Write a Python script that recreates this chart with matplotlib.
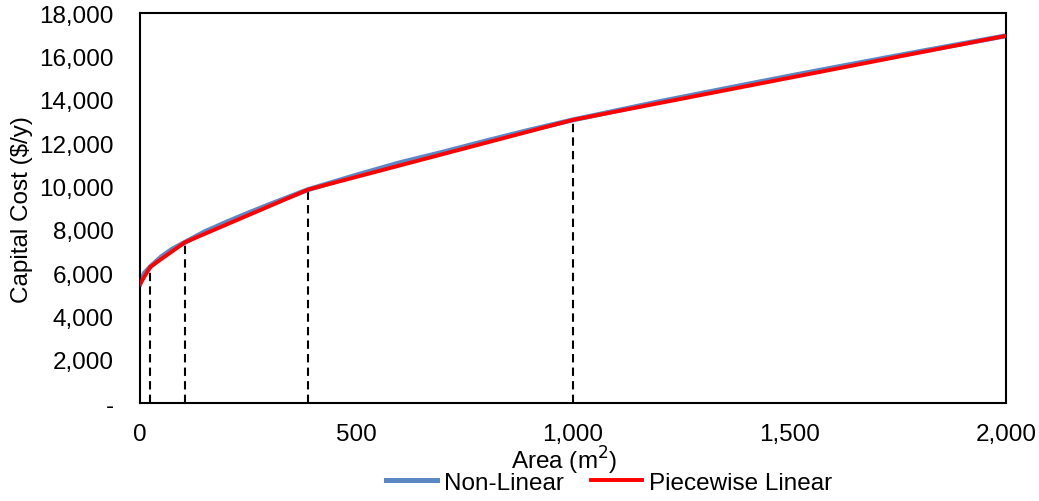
import matplotlib.pyplot as plt
from matplotlib.ticker import FuncFormatter

plt.rcParams['font.family'] = ['Liberation Sans', 'DejaVu Sans']

# non-linear capital cost curve
area_nl = [0, 10, 24, 50, 75, 104, 150, 200, 250, 300, 388, 500, 600, 700,
           800, 900, 1000, 1200, 1400, 1500, 1600, 1800, 2000]
cost_nl = [5490, 5990, 6290, 6760, 7110, 7420, 7910, 8350, 8770, 9170, 9850,
           10520, 11090, 11580, 12100, 12600, 13070, 13910, 14700, 15090,
           15470, 16220, 16950]

# piecewise linear approximation
area_pw = [0, 24, 104, 388, 1000, 2000]
cost_pw = [5490, 6290, 7420, 9850, 13070, 16950]

# breakpoints
breaks = [24, 104, 388, 1000]

def fmt(v, pos):
    if v == 0:
        return '-'
    return '{:,.0f}'.format(v)

fig = plt.figure(figsize=(10.39, 5.02), dpi=100)
ax = fig.add_axes([0.1347, 0.195, 0.8335, 0.777])

for b, c in zip(breaks, cost_pw[1:5]):
    ax.plot([b, b], [0, c], color='black', lw=1.5, ls=(0, (4, 2.5)), zorder=1)

ax.plot(area_nl, cost_nl, color='#5B87C5', lw=3.6, label='Non-Linear', zorder=2)
ax.plot(area_pw, cost_pw, color='#FF0000', lw=2.8, label='Piecewise Linear', zorder=3)

ax.set_xlim(0, 2000)
ax.set_ylim(0, 18000)
ax.set_xticks([0, 500, 1000, 1500, 2000])
ax.set_yticks(range(0, 18001, 2000))
ax.xaxis.set_major_formatter(FuncFormatter(lambda v, p: '{:,.0f}'.format(v)))
ax.yaxis.set_major_formatter(FuncFormatter(fmt))
ax.tick_params(axis='x', length=0, pad=14, labelsize=17.5)
ax.tick_params(axis='y', length=0, pad=19, labelsize=17.5)
for s in ax.spines.values():
    s.set_linewidth(1.5)
    s.set_color('black')

ax.set_xlabel('Area (m$^{2}$)', fontsize=17.5)
ax.xaxis.set_label_coords(0.49, -0.105)
ax.set_ylabel('Capital Cost ($/y)', fontsize=17.5)
ax.yaxis.set_label_coords(-0.124, 0.5)

fig.legend(loc='center', bbox_to_anchor=(0.586, 0.036), ncol=2, frameon=False,
           fontsize=17.5, handlelength=2.1, handletextpad=0.3, columnspacing=1.1,
           borderaxespad=0)

fig.savefig('out.png', dpi=100)
